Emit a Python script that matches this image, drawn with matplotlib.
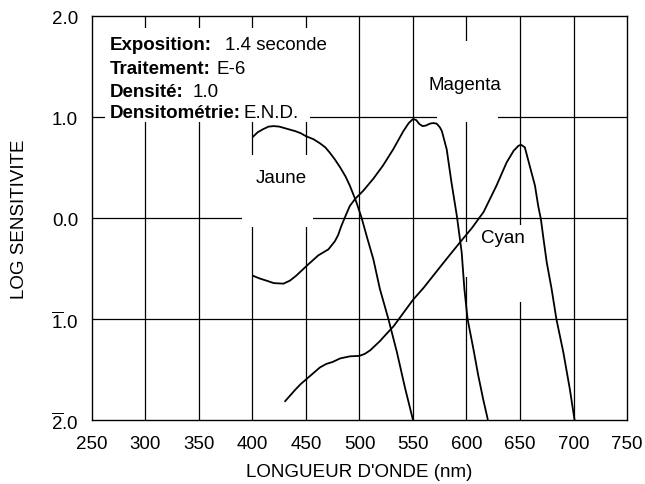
"""Spectral sensitivity curves (E-6 reversal film) redrawn with matplotlib."""

import matplotlib
matplotlib.use('Agg')
import matplotlib.pyplot as plt
from matplotlib.patches import Rectangle

plt.rcParams['font.family'] = ['Liberation Sans', 'DejaVu Sans']
plt.rcParams['mathtext.fontset'] = 'custom'
plt.rcParams['mathtext.rm'] = 'Liberation Sans'
plt.rcParams['mathtext.it'] = 'Liberation Sans:italic'
plt.rcParams['mathtext.bf'] = 'Liberation Sans:bold'

FS = 13.5

# Curves: wavelength (nm) / log sensitivity
jaune_nm = [400, 405, 410, 415, 420, 425, 430, 440, 445, 450, 457, 463,
            468, 472, 477, 482, 487, 491, 497, 502, 507, 513, 519, 527,
            535, 542.5, 550]
jaune_log = [0.80, 0.85, 0.88, 0.905, 0.91, 0.905, 0.89, 0.86, 0.84, 0.81,
             0.78, 0.74, 0.70, 0.65, 0.58, 0.50, 0.41, 0.32, 0.16, 0.0,
             -0.19, -0.41, -0.70, -1.00, -1.33, -1.68, -2.00]

magenta_nm = [400, 407, 413, 420, 429, 435, 441, 451, 461.5, 471, 477,
              480, 483, 486.5, 491, 496, 503.5, 513, 522, 531.5, 541, 546,
              550, 553, 556, 559, 562, 566, 569, 572, 575, 577, 581.5, 586,
              591, 595.5, 598, 601, 606.5, 611, 615.5, 620]
magenta_log = [-0.57, -0.60, -0.62, -0.645, -0.65, -0.62, -0.57, -0.47,
               -0.37, -0.31, -0.23, -0.17, -0.08, 0.01, 0.12, 0.19, 0.27,
               0.39, 0.52, 0.68, 0.86, 0.94, 0.98, 0.97, 0.93, 0.91, 0.915,
               0.935, 0.94, 0.935, 0.90, 0.86, 0.68, 0.35, 0.02, -0.34,
               -0.70, -1.00, -1.30, -1.56, -1.79, -2.00]

cyan_nm = [430, 440, 445, 451, 457, 463, 469, 475, 482, 491, 500, 505, 510,
           514, 519, 525, 532, 541, 550, 560, 569, 581, 594, 605, 616, 628,
           637.5, 644, 648.5, 651, 654.5, 659, 664, 667, 669.5, 672, 675,
           679.5, 684, 690.5, 696.5, 701]
cyan_log = [-1.82, -1.70, -1.645, -1.59, -1.535, -1.48, -1.445, -1.425,
            -1.39, -1.37, -1.365, -1.345, -1.31, -1.27, -1.22, -1.15, -1.07,
            -0.94, -0.81, -0.69, -0.57, -0.41, -0.24, -0.10, 0.06, 0.32,
            0.55, 0.665, 0.715, 0.725, 0.70, 0.52, 0.32, 0.12, -0.01, -0.21,
            -0.44, -0.70, -1.00, -1.33, -1.69, -2.00]

x_ticks = [250, 300, 350, 400, 450, 500, 550, 600, 650, 700, 750]
y_ticks = [-2, -1, 0, 1, 2]
y_tick_labels = [r'$\overline{2}$.0', r'$\overline{1}$.0', '0.0', '1.0', '2.0']

info_labels = ['Exposition:', 'Traitement:', 'Densité:', 'Densitométrie:']
info_values = ['1.4 seconde', 'E-6', '1.0', 'E.N.D.']
info_gaps = [9, 4, 6, 1.5]  # points between bold label and value

fig = plt.figure(figsize=(6.45, 4.85), dpi=100)
ax = fig.add_axes([0.1426, 0.1320, 0.8295, 0.8329])

ax.set_xlim(250, 750)
ax.set_ylim(-2, 2)
ax.set_xticks(x_ticks)
ax.set_yticks(y_ticks)
ax.set_yticklabels(y_tick_labels)
ax.tick_params(length=0, labelsize=FS, colors='black')
ax.tick_params(axis='x', pad=11)
ax.tick_params(axis='y', pad=10)
for s in ax.spines.values():
    s.set_linewidth(1.0)

# grid
for xv in x_ticks[1:-1]:
    ax.axvline(xv, color='black', lw=0.9, zorder=1)
for yv in y_ticks[1:-1]:
    ax.axhline(yv, color='black', lw=0.9, zorder=1)

# white areas that cut the grid around the labels
masks = [
    (262, 0.95, 192, 0.93),     # info block
    (390, -0.09, 66.5, 0.715),  # Jaune
    (572.5, 0.95, 57, 0.80),    # Magenta
    (640, -0.83, 20, 0.76),     # Cyan, 650 line
    (595, -0.58, 10, 0.34),     # Cyan, 600 line
]
for x0, y0, w, h in masks:
    ax.add_patch(Rectangle((x0, y0), w, h, facecolor='white',
                           edgecolor='none', zorder=2))

for xs, ys in [(jaune_nm, jaune_log), (magenta_nm, magenta_log),
               (cyan_nm, cyan_log)]:
    ax.plot(xs, ys, color='black', lw=1.3, zorder=3,
            solid_joinstyle='round', solid_capstyle='butt')

ax.text(427, 0.40, 'Jaune', fontsize=FS, ha='center', va='center', zorder=4)
ax.text(599, 1.32, 'Magenta', fontsize=FS, ha='center', va='center', zorder=4)
ax.text(634, -0.19, 'Cyan', fontsize=FS, ha='center', va='center', zorder=4)

info_y = [1.673, 1.436, 1.211, 1.0]
for lab, val, gap, yv in zip(info_labels, info_values, info_gaps, info_y):
    t = ax.text(267, yv, lab, fontsize=FS, fontweight='bold',
                ha='left', va='baseline', zorder=4)
    ax.annotate(val, xy=(1, 0), xycoords=t, xytext=(gap, 0),
                textcoords='offset points', fontsize=FS,
                ha='left', va='bottom', zorder=4)

ax.set_xlabel("LONGUEUR D'ONDE (nm)", fontsize=FS, labelpad=8)
ax.set_ylabel('LOG SENSITIVITE', fontsize=FS, labelpad=16)

fig.savefig('out.png', dpi=100, facecolor='white')
